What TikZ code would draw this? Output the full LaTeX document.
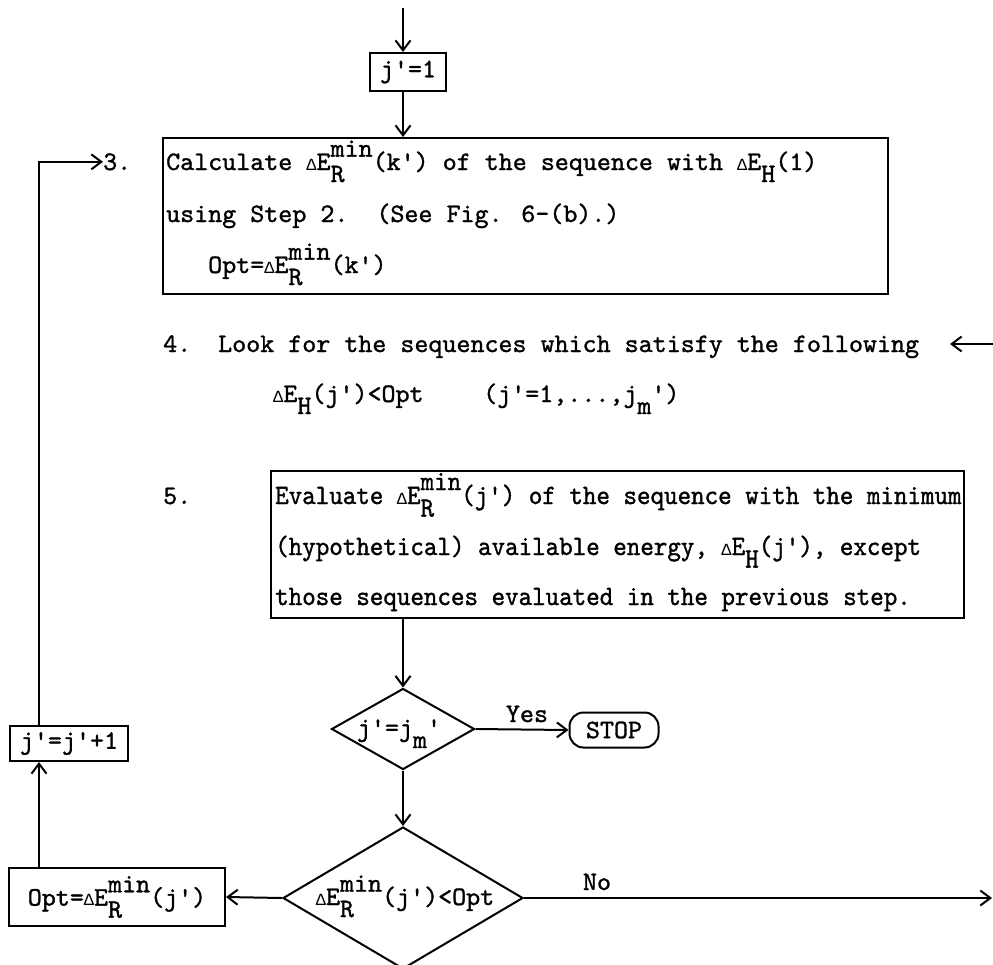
\documentclass[tikz,border=0pt]{standalone}
\usepackage{fontspec}
\newfontfamily\tw[FakeBold=1.2]{lmmono10-regular.otf}
\newfontfamily\condtt[FakeStretch=0.92,FakeBold=1.2]{lmmono10-regular.otf}
\newfontfamily\dfont{Liberation Mono}
\usetikzlibrary{arrows.meta,shapes.geometric}
\newcommand\SupSub[2]{\rlap{\raisebox{0.5em}{#1}}\rlap{\raisebox{-0.45em}{#2}}\hphantom{#1}}
\newcommand\Sub[1]{\raisebox{-0.45em}{#1}}
\newcommand\dl{{\dfont\fontsize{17}{17}\selectfont Δ}}
\tikzset{
  arr/.style={line width=2pt, -{Straight Barb[length=10pt,width=15pt,line width=2pt]}},
  box/.style={draw, line width=2pt, inner sep=0pt, font=\tw\fontsize{26.7}{30}\selectfont},
  txt/.style={font=\tw\fontsize{26.7}{30}\selectfont, inner sep=0pt, anchor=base west},
  ctxt/.style={font=\condtt\fontsize{28}{32}\selectfont, inner sep=0pt, anchor=base west},
  dia/.style={draw, diamond, line width=2pt, inner sep=0pt},
}
\begin{document}
\begin{tikzpicture}[x=1pt,y=-1pt]
\useasboundingbox (0,0) rectangle (993,964);
\clip (0,0) rectangle (993,964);
% top
\coordinate (top) at (403,8);
\node[box, minimum width=76pt, minimum height=38pt] (j1) at (408,72) {j'=1};
\draw[arr] (top) -- (top |- j1.north);
% box 3
\node[box, anchor=north west, minimum width=725pt, minimum height=156pt] (b3) at (162,137) {};
\draw[arr] (top |- j1.south) -- (top |- b3.north);
\node[txt] (n3) at (103,170) {3.};
\node[txt] (l3a) at (166,170) {Calculate \dl E\SupSub{min}{R}(k') of the sequence with \dl E\Sub{H}(1)};
\node[txt] (l3b) at (166,222) {using Step 2.\ \ (See Fig. 6-(b).)};
\node[txt] (l3c) at (208,273) {Opt=\dl E\SupSub{min}{R}(k')};
% step 4
\node[txt] (n4) at (163,352) {4.};
\node[txt] (l4) at (218,352) {Look for the sequences which satisfy the following};
\coordinate (r4) at (993,344);
\coordinate (r4tip) at (950,344);
\draw[arr] (r4) -- (r4tip);
\node[txt] (l4b) at (273,402) {\dl E\Sub{H}(j')<Opt};
\node[txt] (l4c) at (483,402) {(j'=1,...,j\Sub{m}')};
% box 5
\node[txt] (n5) at (163,504) {5.};
\node[box, anchor=north west, minimum width=693pt, minimum height=147pt] (b5) at (270,470) {};
\node[ctxt] (l5a) at (275,504) {Evaluate \dl E\SupSub{min}{R}(j') of the sequence with the minimum};
\node[ctxt] (l5b) at (275,555) {(hypothetical) available energy, \dl E\Sub{H}(j'), except};
\node[ctxt] (l5c) at (275,605) {those sequences evaluated in the previous step.};
% diamond 1
\node[dia, minimum width=143pt, minimum height=81pt] (d1) at (403,729) {};
\node[txt, anchor=base] (t1) at (399,736) {j'=j\Sub{m}'};
\draw[arr] (b5.south -| d1) -- (d1.north);
\node[box, rounded corners=14pt, minimum width=89pt, minimum height=35pt] (stop) at (614,730) {STOP};
\draw[arr] (d1.east) -- (stop.west);
\node[txt, anchor=base] (yes) at (527,722) {Yes};
% diamond 2
\node[dia, minimum width=240pt, minimum height=142pt] (d2) at (403,898) {};
\node[txt, anchor=base] (t2) at (405,905) {\dl E\SupSub{min}{R}(j')<Opt};
\draw[arr] (d1.south) -- (d2.north);
\node[box, anchor=north west, minimum width=216pt, minimum height=58pt] (opt) at (8,867) {Opt=\dl E\SupSub{min}{R}(j')};
\draw[arr] (d2.west) -- (opt.east);
\coordinate (rno) at (992,898);
\draw[arr] (d2.east) -- (rno);
\node[txt, anchor=base] (no) at (597,890) {No};
% loop
\coordinate (loop) at (39,0);
\node[box, anchor=north west, minimum width=118pt, minimum height=35pt] (jp1) at (9,725) {j'=j'+1};
\draw[arr] (opt.north -| loop) -- (jp1.south -| loop);
\draw[arr] (jp1.north -| loop) |- (n3.west);
\end{tikzpicture}
\end{document}
